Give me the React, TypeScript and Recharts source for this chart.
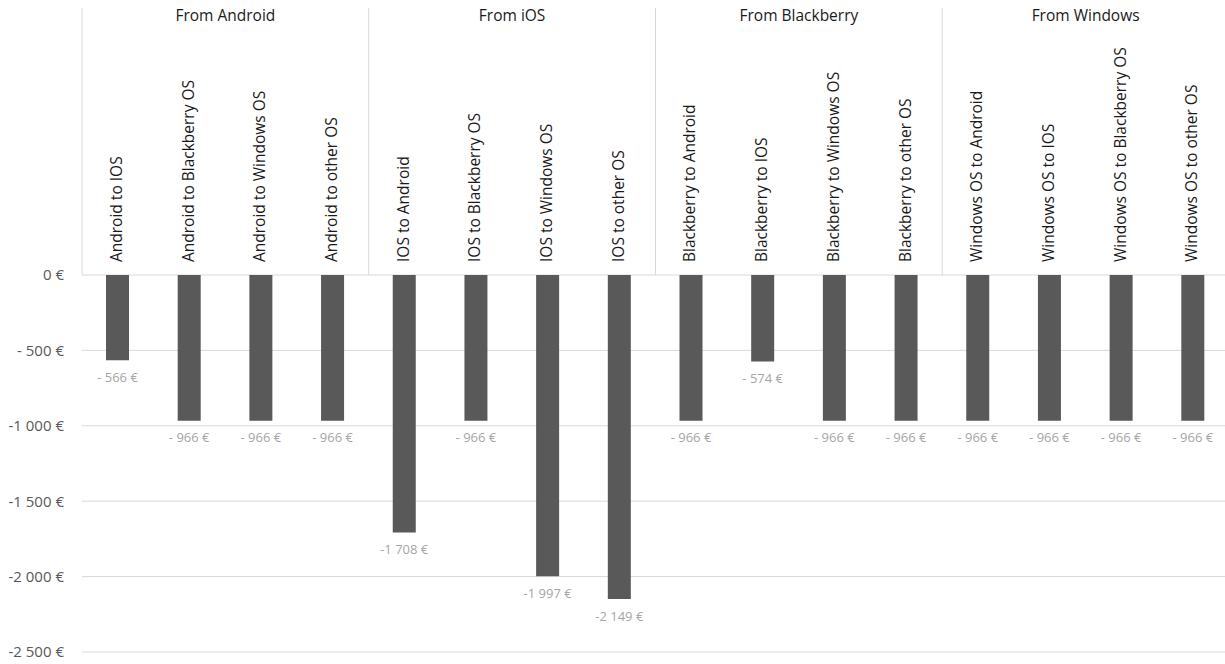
import React from 'react';
import { BarChart, Bar, XAxis, YAxis, CartesianGrid, LabelList } from 'recharts';

const categories = [
  'Android to IOS', 'Android to Blackberry OS', 'Android to Windows OS', 'Android to other OS',
  'IOS to Android', 'IOS to Blackberry OS', 'IOS to Windows OS', 'IOS to other OS',
  'Blackberry to Android', 'Blackberry to IOS', 'Blackberry to Windows OS', 'Blackberry to other OS',
  'Windows OS to Android', 'Windows OS to IOS', 'Windows OS to Blackberry OS', 'Windows OS to other OS',
];

const groups = ['From Android', 'From iOS', 'From Blackberry', 'From Windows'];

const values = [
  -566, -966, -966, -966,
  -1708, -966, -1997, -2149,
  -966, -574, -966, -966,
  -966, -966, -966, -966,
];

const yTicks = [0, -500, -1000, -1500, -2000, -2500];

const FONT = '"Open Sans", sans-serif';
const GRID = '#d9d9d9';
const PER_GROUP = 4;

// excel style: "- 566 €", "-1 708 €"
const euro = (v: number) => {
  if (v === 0) return '0 €';
  const a = Math.abs(Math.round(v));
  if (a < 1000) return `- ${a} €`;
  const s = a.toString().replace(/\B(?=(\d{3})+(?!\d))/g, ' ');
  return `-${s} €`;
};

const data = categories.map((name, i) => ({
  name,
  value: values[i],
  group: groups[Math.floor(i / PER_GROUP)],
}));

const CategoryTick = (props: any) => {
  const { x, y, payload, index } = props;
  const half = payload && payload.offset ? payload.offset : 35.85;
  const first = index % PER_GROUP === 0;
  return (
    <g>
      {first && (
        <>
          <line x1={x - half} x2={x - half} y1={y - 267} y2={y} stroke={GRID} strokeWidth={1} />
          <text
            x={x - half + half * PER_GROUP}
            y={y - 258}
            textAnchor="middle"
            dominantBaseline="middle"
            fontSize={15.5}
            fontFamily={FONT}
            fill="#1a1a1a"
          >
            {data[index].group}
          </text>
        </>
      )}
      <text
        x={x}
        y={y - 13}
        transform={`rotate(-90, ${x}, ${y - 13})`}
        textAnchor="start"
        dominantBaseline="middle"
        fontSize={15.5}
        fontFamily={FONT}
        fill="#1a1a1a"
      >
        {payload.value}
      </text>
    </g>
  );
};

const ValueLabel = (props: any) => {
  const { x, y, width, height, value } = props;
  const bottom = Math.max(y, y + height);
  return (
    <text
      x={x + width / 2}
      y={bottom + 18}
      textAnchor="middle"
      dominantBaseline="middle"
      fontSize={13}
      fontFamily={FONT}
      fill="#a6a6a6"
    >
      {euro(value)}
    </text>
  );
};

export default function App() {
  return (
    <div style={{ position: 'absolute', left: 0, top: 0, width: 1225, height: 664, overflow: 'hidden', background: '#fff' }}>
      <BarChart
        width={1240}
        height={664}
        data={data}
        margin={{ top: 8, right: 11, left: 0, bottom: 12 }}
        barSize={23}
      >
        <CartesianGrid vertical={false} stroke={GRID} />
        <XAxis
          dataKey="name"
          orientation="top"
          height={267}
          interval={0}
          tickLine={false}
          axisLine={false}
          tickSize={0}
          tickMargin={0}
          tick={<CategoryTick />}
        />
        <YAxis
          domain={[-2500, 0]}
          ticks={yTicks}
          width={82}
          tickLine={false}
          axisLine={false}
          tickSize={0}
          tickMargin={18}
          tickFormatter={euro}
          tick={{ fill: '#595959', fontSize: 15, fontFamily: FONT }}
        />
        <Bar dataKey="value" fill="#595959" isAnimationActive={false}>
          <LabelList dataKey="value" content={<ValueLabel />} />
        </Bar>
      </BarChart>
    </div>
  );
}
